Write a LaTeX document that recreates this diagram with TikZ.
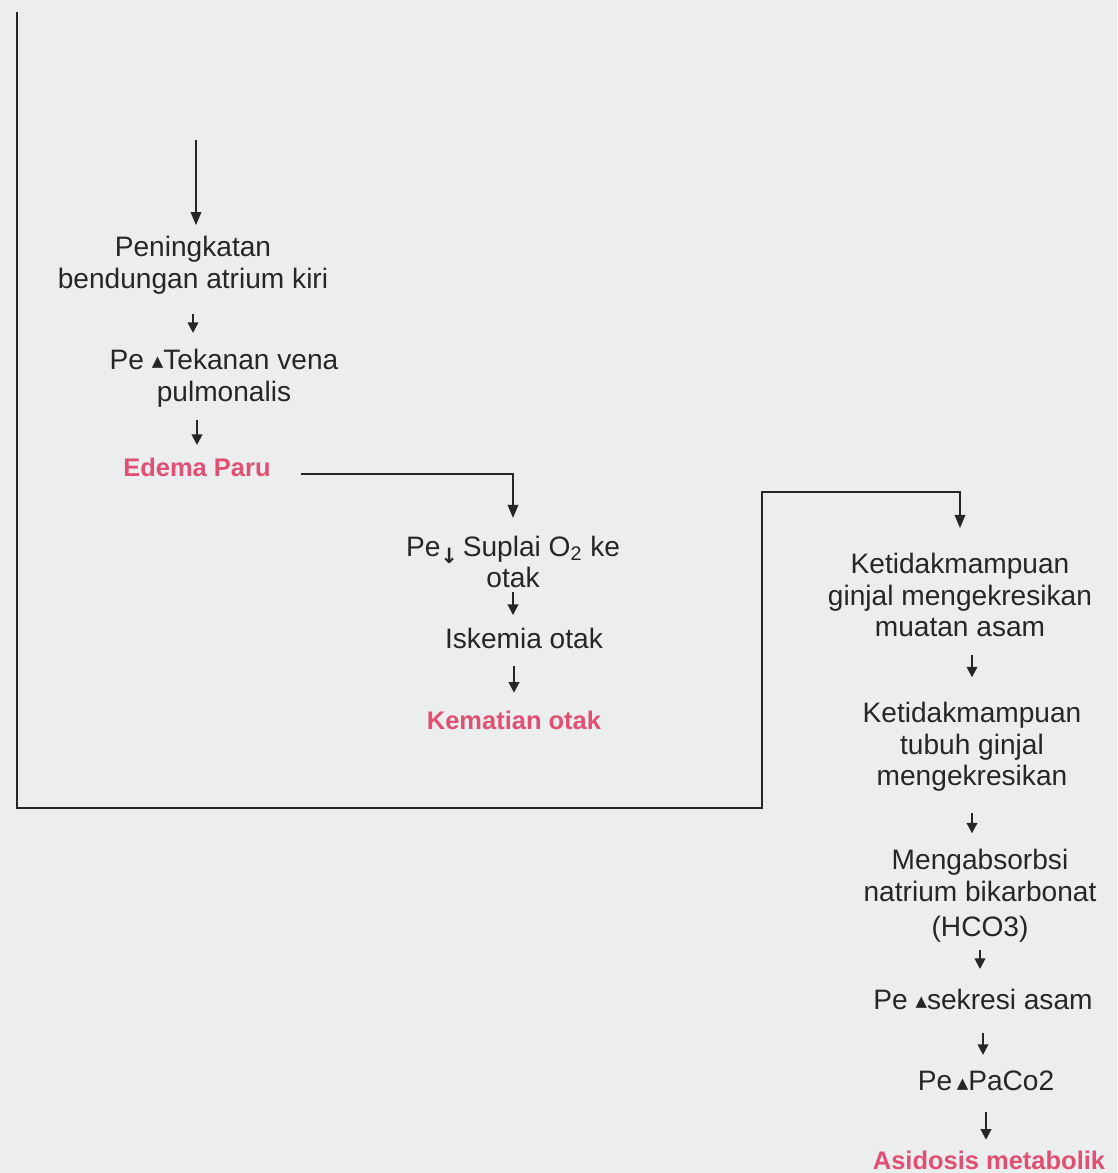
\documentclass[tikz,border=0pt]{standalone}
\usepackage{fontspec}
\setmainfont{Liberation Sans}
\newfontfamily\symfont{DejaVu Sans}
\usetikzlibrary{arrows.meta}
\definecolor{paper}{RGB}{236,237,239}
\definecolor{ink}{RGB}{38,38,38}
\definecolor{pinktext}{RGB}{224,80,114}
\newcommand{\incr}{\raisebox{1.5pt}{\symfont\fontsize{8.5}{8.5}\selectfont ▲}}
\newcommand{\decr}{\raisebox{-4pt}{\symfont\bfseries\fontsize{12}{12}\selectfont ↓}}
\tikzset{
  box/.style={align=center, inner sep=0pt, text=ink, font=\fontsize{16}{18}\selectfont},
  hot/.style={box, text=pinktext, font=\fontsize{14.5}{18}\selectfont\bfseries},
  bigarr/.style={draw=ink, line width=1pt, -{Triangle[length=7.5pt,width=6pt]}},
  smallarr/.style={draw=ink, line width=1.1pt, -{Triangle[length=6pt,width=6pt]}}
}
\begin{document}
\begin{tikzpicture}[x=0.02cm, y=-0.02cm]
      \fill[paper] (0,0) rectangle (1117,1173);

      \node[box] (peningkatan) at (193,265) {Peningkatan\\bendungan atrium kiri};
      \node[box] (tekanan) at (224,378) {Pe \incr Tekanan vena\\pulmonalis};
      \node[hot] (edema) at (197,467) {Edema Paru};

      \node[box] (suplai) at (513,562) {Pe\decr\,Suplai O\textsubscript{2} ke\\otak};
      \node[box] (iskemia) at (524,638) {Iskemia otak};
      \node[hot] (kematian) at (514,720) {Kematian otak};

      \node[box] (gagal) at (960,595) {Ketidakmampuan\\ginjal mengekresikan\\muatan asam};
      \node[box] (tubuh) at (972,747) {Ketidakmampuan\\tubuh ginjal\\mengekresikan};
      \node[box] (absorbsi) at (980,896) {Mengabsorbsi\\natrium bikarbonat\\[2pt](HCO3)};
      \node[box] (sekresi) at (983,999) {Pe \incr sekresi asam};
      \node[box] (paco) at (986,1081) {Pe\,\incr PaCo2};
      \node[hot] (asidosis) at (989,1160) {Asidosis metabolik};

      \coordinate (mulai) at (196,140);
      \coordinate (kiri) at (17,12);
      \coordinate (sudut) at (762,808);

      \draw[bigarr, shorten >=6pt] (mulai) to (mulai |- peningkatan.north);
      \draw[smallarr, shorten <=11pt, shorten >=9pt] (peningkatan.south) to (peningkatan.south |- tekanan.north);
      \draw[smallarr, shorten <=7pt, shorten >=7pt] (tekanan.south -| edema.north) to (edema.north);
      \draw[bigarr, shorten >=10pt] ([shift={(30,7)}]edema.east) -| (suplai.north);

      \draw[smallarr, shorten <=2pt, shorten >=7pt] (suplai.south) to (suplai.south |- iskemia.north);
      \draw[smallarr, shorten <=10pt, shorten >=10pt] (iskemia.south -| kematian.north) to (kematian.north);

      \draw[bigarr, shorten >=14pt] (kiri) |- (sudut) -- ++(0,-316) -| (gagal.north);
      \draw[smallarr, shorten <=10pt, shorten >=14pt] (gagal.south -| tubuh.north) to (tubuh.north);
      \draw[smallarr, shorten <=12pt, shorten >=9pt] (tubuh.south) to (tubuh.south |- absorbsi.north);
      \draw[smallarr, shorten <=4pt, shorten >=11pt] (absorbsi.south) to (absorbsi.south |- sekresi.north);
      \draw[smallarr, shorten <=13pt, shorten >=9pt] (sekresi.south) to (sekresi.south |- paco.north);
      \draw[smallarr, shorten <=12pt, shorten >=6pt] (paco.south) to (paco.south |- asidosis.north);
    \end{tikzpicture}
\end{document}
